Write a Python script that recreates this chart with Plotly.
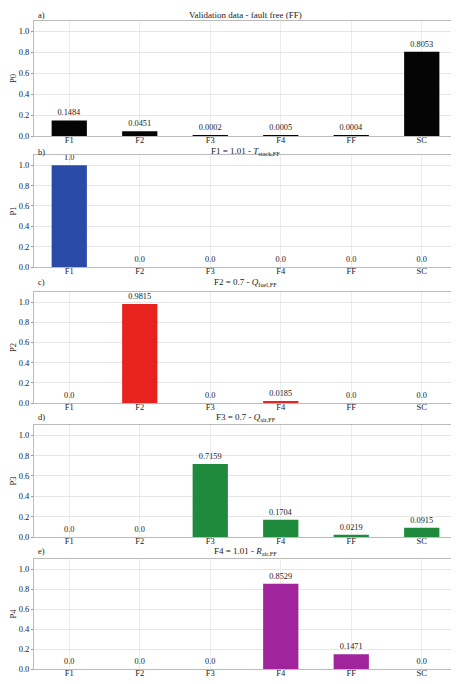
import plotly.graph_objects as go

categories = ["F1", "F2", "F3", "F4", "FF", "SC"]
p0 = [0.1484, 0.0451, 0.0002, 0.0005, 0.0004, 0.8053]
p1 = [1.0, 0.0, 0.0, 0.0, 0.0, 0.0]
p2 = [0.0, 0.9815, 0.0, 0.0185, 0.0, 0.0]
p3 = [0.0, 0.0, 0.7159, 0.1704, 0.0219, 0.0915]
p4 = [0.0, 0.0, 0.0, 0.8529, 0.1471, 0.0]
series = [p0, p1, p2, p3, p4]
ylabels = ["P0", "P1", "P2", "P3", "P4"]
titles = [
    "Validation data - fault free (FF)",
    "F1 = 1.01 - <i>T</i><sub>stack,FF</sub>",
    "F2 = 0.7 - <i>Q</i><sub>fuel,FF</sub>",
    "F3 = 0.7 - <i>Q</i><sub>air,FF</sub>",
    "F4 = 1.01 - <i>R</i><sub>air,FF</sub>",
]
letters = ["a)", "b)", "c)", "d)", "e)"]
colors = ["#050505", "#2a4aa8", "#e8221f", "#1f8a3c", "#a0249c"]
yticks = [0.0, 0.2, 0.4, 0.6, 0.8, 1.0]

OFF = 8  # page body margin
W, H = 459 - OFF, 684 - OFF
# pixel (top, bottom) of each plot area in the page, and title centre row
pix = [(21, 136), (155, 267), (292, 403), (425, 537), (559, 669)]
title_rows = [15, 152, 282, 417, 551]

FONT = "Liberation Serif"
TXT = "#222222"
fig = go.Figure()
for i, vals in enumerate(series):
    n = "" if i == 0 else str(i + 1)
    fig.add_trace(go.Bar(
        x=categories, y=vals, xaxis="x" + n, yaxis="y" + n,
        marker=dict(color=colors[i], line=dict(width=0)),
        width=0.5,
        text=[str(v) for v in vals], textposition="outside",
        textfont=dict(family=FONT, size=8.3, color=TXT),
        outsidetextfont=dict(family=FONT, size=8.3, color=TXT),
        cliponaxis=False, showlegend=False,
    ))
    top, bot = pix[i]
    dom = [1 - (bot - OFF) / H, 1 - (top - OFF) / H]
    fig.update_layout(**{
        "xaxis" + n: dict(domain=[0, 1], anchor="y" + n, range=[-0.5, 5.5],
                          automargin=False, ticklabelstandoff=-4,
                          showgrid=True, gridcolor="#ececec", gridwidth=1,
                          tickfont=dict(family=FONT, size=8.5, color=TXT),
                          ticks="", ticklen=0, showline=True, linecolor="#bbbbbb",
                          mirror=True, zeroline=False),
        "yaxis" + n: dict(domain=dom, anchor="x" + n, range=[0, 1.1],
                          automargin=False,
                          tickvals=yticks, ticktext=["%.1f" % t for t in yticks],
                          showgrid=True, gridcolor="#e6e6e6", gridwidth=1,
                          tickfont=dict(family=FONT, size=8.5, color=TXT),
                          ticks="outside", ticklen=2, tickcolor="#999",
                          showline=True, linecolor="#bbbbbb", mirror=True, zeroline=False,
                          title=dict(text=ylabels[i], font=dict(family=FONT, size=8.5, color=TXT), standoff=6)),
    })
    ty = 1 - (title_rows[i] - OFF) / H
    fig.add_annotation(text=titles[i], xref="paper", yref="paper", x=0.5, y=ty,
                       yanchor="middle", showarrow=False,
                       font=dict(family=FONT, size=9, color=TXT))
    fig.add_annotation(text=letters[i], xref="paper", yref="paper", x=0.0, y=ty,
                       xanchor="left", yanchor="middle", showarrow=False, xshift=2,
                       font=dict(family=FONT, size=8.5, color=TXT))

fig.update_layout(width=W, height=H, margin=dict(l=34 - OFF, r=2, t=0, b=0),
                  paper_bgcolor="white", plot_bgcolor="white", bargap=0.5)
fig.write_html("out.html")
